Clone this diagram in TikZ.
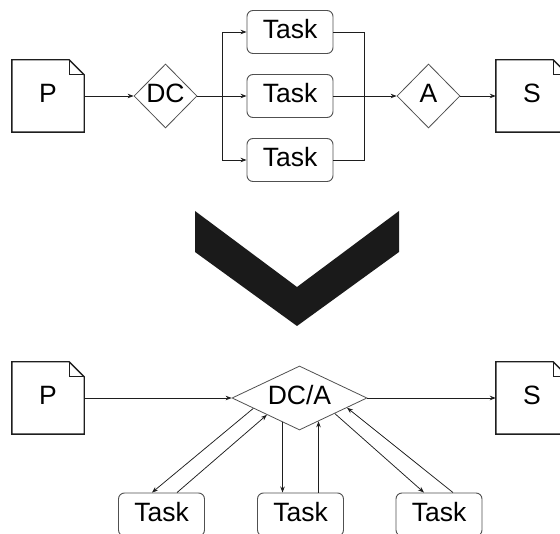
\documentclass[tikz,border=0pt]{standalone}
\usepackage{fontspec}
\setmainfont{Liberation Sans}
\usetikzlibrary{shapes.geometric,arrows.meta,calc}

\definecolor{ink}{HTML}{1E1E1E}
\definecolor{edge}{HTML}{505050}
\definecolor{chev}{HTML}{1A1A1A}

\tikzset{
  lbl/.style={font=\fontsize{26.5}{31}\selectfont, text height=19.5pt, text depth=6.3pt, inner sep=0pt},
  docbox/.style={lbl, rectangle, minimum width=72pt, minimum height=72pt},
  docline/.style={draw=ink, line width=1.4pt, line join=miter},
  decide/.style={lbl, diamond, draw=edge, line width=0.8pt, aspect=1, inner sep=-6pt},
  taskbox/.style={lbl, rectangle, rounded corners=6pt, draw=edge, line width=0.9pt,
                  minimum width=86pt, minimum height=43pt},
  link/.style={draw=ink, line width=0.75pt},
  arr/.style={link, -{Stealth[length=6pt,width=4.5pt]}},
}

% outline of a sheet with a folded top-right corner
\newcommand{\sheet}[1]{%
  \path[docline] (#1.north west) -- ($(#1.north east)+(-15,0)$)
    -- ($(#1.north east)+(0,15)$) -- (#1.south east) -- (#1.south west) -- cycle;
  \path[docline] ($(#1.north east)+(-15,0)$) -- ($(#1.north east)+(-15,15)$)
    -- ($(#1.north east)+(0,15)$);
}

\begin{document}
\begin{tikzpicture}[x=1pt,y=-1pt]
\useasboundingbox (0,0) rectangle (560,534);
\clip (0,0) rectangle (560,534);

% ---------- sequential pipeline ----------
\node[docbox] (P) at (48,96) {P};
\sheet{P}
\node[decide, minimum width=63pt, minimum height=64pt] (DC) at (165.5,96) {DC};
\node[taskbox] (T1) at (290,32) {Task};
\node[taskbox] (T2) at (290,96) {Task};
\node[taskbox] (T3) at (290,160) {Task};
\node[decide, minimum width=63pt, minimum height=64pt] (A) at (428.5,96) {A};
\node[docbox] (S) at (532,96) {S};
\sheet{S}

\coordinate (fork) at (222,96);
\coordinate (join) at (364,96);

\draw[arr] (P.east) -- (DC.west);
\draw[arr] (DC.east) -- (T2.west);
\draw[arr] (fork) |- (T1.west);
\draw[arr] (fork) |- (T3.west);
\draw[link] (T1.east) -| (join);
\draw[link] (T3.east) -| (join);
\draw[arr] (T2.east) -- (A.west);
\draw[arr] (A.east) -- (S.west);

% ---------- transformation chevron ----------
\fill[chev] (195,211) -- (297,287) -- (399,211) -- (399,252)
  -- (297,326) -- (195,252) -- cycle;

% ---------- merged dispatcher ----------
\node[docbox] (P2) at (48,398) {P};
\sheet{P2}
\node[decide, aspect=2, minimum width=135pt, minimum height=64pt] (DCA) at (299.5,398) {DC/A};
\node[docbox] (S2) at (532,398) {S};
\sheet{S2}
\node[taskbox] (B1) at (161.5,514.5) {Task};
\node[taskbox] (B2) at (300.5,514.5) {Task};
\node[taskbox] (B3) at (439,514.5) {Task};

\draw[arr] (P2.east) -- (DCA.west);
\draw[arr] (DCA.east) -- (S2.west);

% left task
\draw[arr] ($(DCA.west)!0.32!(DCA.south)$) -- ([xshift=-9.5pt]B1.north);
\draw[arr] ([xshift=15.5pt]B1.north) -- ($(DCA.west)!0.52!(DCA.south)$);
% middle task
\coordinate (md) at ($(DCA.west)!0.75!(DCA.south)$);
\coordinate (mu) at ($(DCA.south)!0.28!(DCA.east)$);
\draw[arr] (md) -- (md |- B2.north);
\draw[arr] (mu |- B2.north) -- (mu);
% right task
\draw[arr] ($(DCA.south)!0.52!(DCA.east)$) -- ([xshift=-15pt]B3.north);
\draw[arr] ([xshift=14pt]B3.north) -- ($(DCA.south)!0.70!(DCA.east)$);
\end{tikzpicture}
\end{document}
